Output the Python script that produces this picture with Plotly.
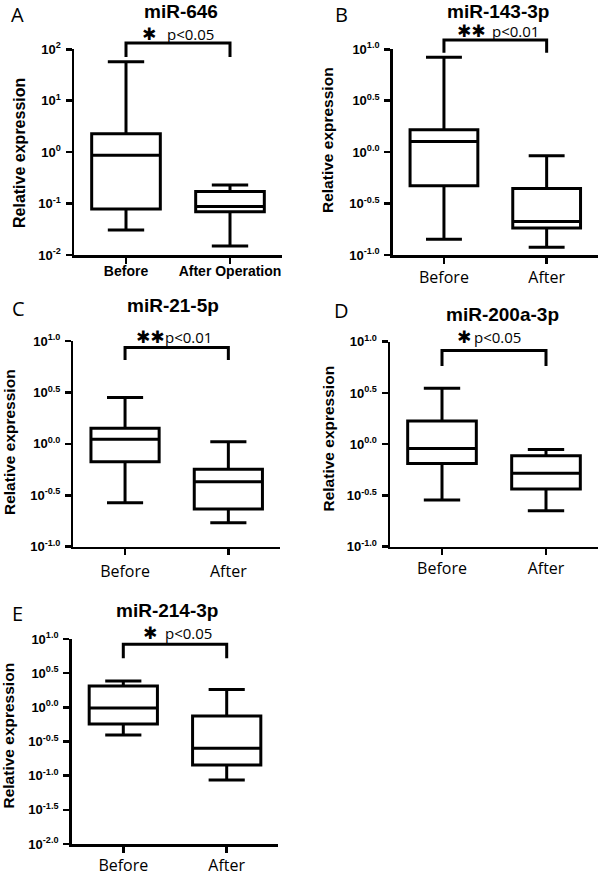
import plotly.graph_objects as go

W, H = 600, 875

# ---------------- data ----------------
panels = ["A", "B", "C", "D", "E"]
titles = ["miR-646", "miR-143-3p", "miR-21-5p", "miR-200a-3p", "miR-214-3p"]
cats_A = ["Before", "After Operation"]
cats = ["Before", "After"]
pvals = ["p<0.05", "p<0.01", "p<0.01", "p<0.05", "p<0.05"]
stars = ["✱", "✱✱", "✱✱", "✱", "✱"]

# [Before, After]
lower_A = [0.0305, 0.0149]; q1_A = [0.078, 0.069]; med_A = [0.87, 0.088]; q3_A = [2.27, 0.172]; upper_A = [57, 0.23]
lower_B = [0.142, 0.119]; q1_B = [0.47, 0.183]; med_B = [1.27, 0.212]; q3_B = [1.65, 0.443]; upper_B = [8.36, 0.92]
lower_C = [0.267, 0.171]; q1_C = [0.67, 0.232]; med_C = [1.11, 0.428]; q3_C = [1.42, 0.565]; upper_C = [2.83, 1.05]
lower_D = [0.286, 0.224]; q1_D = [0.65, 0.366]; med_D = [0.91, 0.52]; q3_D = [1.68, 0.773]; upper_D = [3.51, 0.89]
lower_E = [0.394, 0.0863]; q1_E = [0.57, 0.143]; med_E = [0.98, 0.251]; q3_E = [2.05, 0.746]; upper_E = [2.43, 1.83]

# y tick labels (log10 exponents)
yexp_A = [-2, -1, 0, 1, 2]; ytxt_A = ["-2", "-1", "0", "1", "2"]
yexp_BCD = [-1.0, -0.5, 0.0, 0.5, 1.0]; ytxt_BCD = ["-1.0", "-0.5", "0.0", "0.5", "1.0"]
yexp_E = [-2.0, -1.5, -1.0, -0.5, 0.0, 0.5, 1.0]; ytxt_E = ["-2.0", "-1.5", "-1.0", "-0.5", "0.0", "0.5", "1.0"]

stats = [
    (lower_A, q1_A, med_A, q3_A, upper_A),
    (lower_B, q1_B, med_B, q3_B, upper_B),
    (lower_C, q1_C, med_C, q3_C, upper_C),
    (lower_D, q1_D, med_D, q3_D, upper_D),
    (lower_E, q1_E, med_E, q3_E, upper_E),
]
yticks = [(yexp_A, ytxt_A), (yexp_BCD, ytxt_BCD), (yexp_BCD, ytxt_BCD), (yexp_BCD, ytxt_BCD), (yexp_E, ytxt_E)]

# ---------------- layout geometry (pixels) ----------------
xdom_px = [(74, 282), (392.6, 598), (73.4, 280), (390, 598), (71.6, 278.4)]
ydom_px = [(49.3, 255), (49.3, 255), (341, 546.7), (341.7, 546.7), (639, 844)]
title_pos = [(181, 12), (498, 12), (173, 306), (502, 314), (167, 610)]
letter_pos = [(17.5, 14), (341, 14), (18, 308), (341.5, 310), (17.5, 613)]
ytitle_pos = [(20, 153), (327.5, 139.5), (9.5, 442.5), (327.5, 438), (7.5, 736)]
ytitle_size = [16, 15.5, 15.5, 15.5, 15.5]
star_pos = [(149, 34), (471, 31), (150, 337), (464, 337), (150, 633)]
ptext_left = [(165, 34), (490, 31), (163, 337), (472, 337), (163, 633)]
bracket_y = [(1.031, 0.963), (1.045, 0.983), (0.969, 0.908), (0.957, 0.881), (0.974, 0.906)]
xlabel_standoff = [-4, 0, 3, 0, -1]


def px(x):
    return x / W


def py(y):
    return 1 - y / H


fig = go.Figure()
shapes = []
annotations = []
XR = [-0.5, 1.5]

for i in range(5):
    n = "" if i == 0 else str(i + 1)
    xa, ya = "x" + n, "y" + n
    lo, q1, me, q3, up = stats[i]
    xc = cats_A if i == 0 else cats
    fig.add_trace(go.Box(
        x=xc, lowerfence=lo, q1=q1, median=me, q3=q3, upperfence=up,
        xaxis=xa, yaxis=ya, boxpoints=False, width=0.66, whiskerwidth=0.53,
        line=dict(color="black", width=3), fillcolor="white",
        showlegend=False, hoverinfo="skip",
    ))
    exps, txts = yticks[i]
    axkey = "xaxis" + n
    aykey = "yaxis" + n
    if i == 0:
        xfont = dict(family="Liberation Sans, Arial", size=14, color="black", weight=700)
    else:
        xfont = dict(family="Open Sans, Segoe UI", size=16, color="black")
    fig.layout[axkey] = dict(
        domain=[px(xdom_px[i][0]), px(xdom_px[i][1])], anchor=ya,
        type="category", range=XR, showline=True, linewidth=2.5, linecolor="black",
        ticks="outside", ticklen=6, tickwidth=2.5, tickcolor="black",
        showgrid=False, zeroline=False, tickfont=xfont, ticklabelstandoff=xlabel_standoff[i],
        fixedrange=True, automargin=False,
    )
    fig.layout[aykey] = dict(
        domain=[py(ydom_px[i][1]), py(ydom_px[i][0])], anchor=xa,
        type="log", range=[exps[0], exps[-1]], showline=True, linewidth=2.5, linecolor="black",
        ticks="outside", ticklen=6, tickwidth=2.5, tickcolor="black",
        tickvals=[10 ** e for e in exps], ticktext=["10<sup>%s</sup>" % t for t in txts],
        showgrid=False, zeroline=False,
        tickfont=dict(family="Liberation Sans, Arial", size=13, color="black", weight=700),
        ticklabelstandoff=2, fixedrange=True, automargin=False,
    )
    x0 = (0 - XR[0]) / (XR[1] - XR[0])
    x1 = (1 - XR[0]) / (XR[1] - XR[0])
    ytop, yend = bracket_y[i]
    shapes.append(dict(
        type="path", xref=xa + " domain", yref=ya + " domain",
        path="M %f,%f L %f,%f L %f,%f L %f,%f" % (x0, yend, x0, ytop, x1, ytop, x1, yend),
        line=dict(color="black", width=3),
    ))
    annotations.append(dict(
        text="<b>%s</b>" % titles[i], x=px(title_pos[i][0]), y=py(title_pos[i][1]),
        xref="paper", yref="paper", showarrow=False, xanchor="center", yanchor="middle",
        font=dict(family="Liberation Sans, Arial", size=19, color="black"),
    ))
    annotations.append(dict(
        text=panels[i], x=px(letter_pos[i][0]), y=py(letter_pos[i][1]),
        xref="paper", yref="paper", showarrow=False, xanchor="center", yanchor="middle",
        font=dict(family="Open Sans", size=20, color="black"),
    ))
    annotations.append(dict(
        text="<b>Relative expression</b>", x=px(ytitle_pos[i][0]), y=py(ytitle_pos[i][1]),
        xref="paper", yref="paper", showarrow=False, xanchor="center", yanchor="middle",
        textangle=-90, font=dict(family="Liberation Sans, Arial", size=ytitle_size[i], color="black"),
    ))
    annotations.append(dict(
        text=stars[i], x=px(star_pos[i][0]), y=py(star_pos[i][1]),
        xref="paper", yref="paper", showarrow=False, xanchor="center", yanchor="middle",
        font=dict(family="DejaVu Sans", size=17, color="black"),
    ))
    annotations.append(dict(
        text=pvals[i], x=px(ptext_left[i][0]), y=py(ptext_left[i][1]),
        xref="paper", yref="paper", showarrow=False, xanchor="left", yanchor="middle",
        font=dict(family="Open Sans", size=15, color="black"),
    ))

fig.update_layout(
    width=W, height=H, margin=dict(l=0, r=0, t=0, b=0, pad=0, autoexpand=False),
    paper_bgcolor="white", plot_bgcolor="white",
    shapes=shapes, annotations=annotations, showlegend=False,
)

fig.write_html(
    "out.html",
    config={"displayModeBar": False, "staticPlot": True},
    post_script="document.body.style.margin='0';document.body.style.overflow='hidden';",
)
